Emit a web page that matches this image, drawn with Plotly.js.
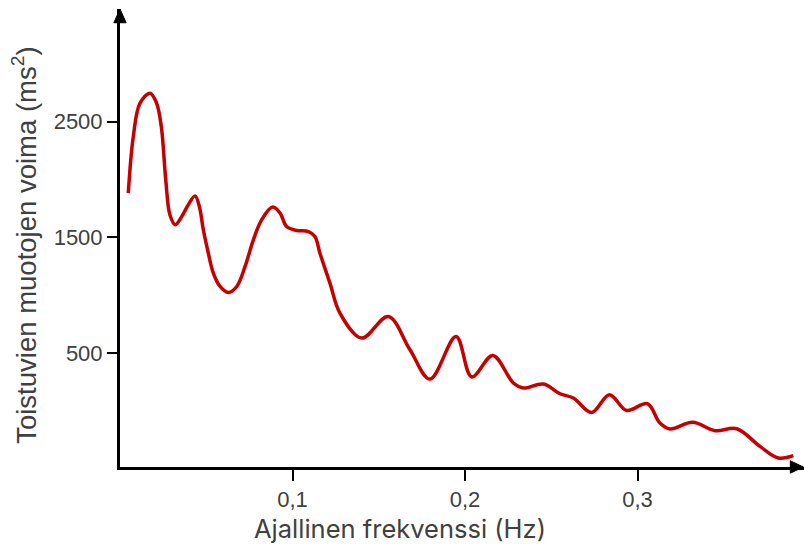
<!DOCTYPE html>
<html>
<head>
<meta charset="utf-8">
<script src="https://cdn.plot.ly/plotly-3.0.1.min.js"></script>
<style>html,body{margin:0;padding:0;background:#fff;}#chart{width:804px;height:552px;}</style>
</head>
<body>
<div id="chart"></div>
<script>
// Frequency (Hz)
const frequency = [0.0048, 0.0077, 0.0116, 0.0174, 0.0212, 0.0240, 0.0265, 0.0290, 0.0321,
  0.0358, 0.0396, 0.0435, 0.0460, 0.0483, 0.0512, 0.0541, 0.0580, 0.0628,
  0.0677, 0.0725, 0.0773, 0.0821, 0.0885, 0.0928, 0.0966, 0.1024, 0.1092, 0.1130,
  0.1159, 0.1217, 0.1275, 0.1401, 0.1555, 0.1681, 0.1797, 0.1948, 0.2039, 0.2161,
  0.2280, 0.2338, 0.2454, 0.2551, 0.2628, 0.2734, 0.2837, 0.2937, 0.3057, 0.3130,
  0.3188, 0.3320, 0.3449, 0.3575, 0.3710, 0.3816, 0.3903];
// Power (ms^2)
const power = [1882, 2370, 2659, 2745, 2660, 2450, 2000, 1690, 1608,
  1680, 1781, 1858, 1766, 1565, 1363, 1191, 1075, 1023,
  1075, 1248, 1478, 1651, 1761, 1709, 1593, 1559, 1550, 1507,
  1363, 1104, 845, 629, 816, 528, 275, 643, 293, 479,
  241, 198, 232, 148, 111, -13, 140, 4, 62, -105,
  -156, -99, -171, -154, -307, -407, -387];

const xTickVals = [0.1, 0.2, 0.3];
const xTickText = ['0,1', '0,2', '0,3'];
const yTickVals = [500, 1500, 2500];
const yTickText = ['500', '1500', '2500'];

const xTitle = 'Ajallinen frekvenssi (Hz)';
const yTitle = 'Toistuvien muotojen voima (ms<sup>2</sup>)';

const trace = {
  x: frequency,
  y: power,
  type: 'scatter',
  mode: 'lines',
  line: {color: '#c40000', width: 3.5, shape: 'spline', smoothing: 1},
  hoverinfo: 'skip'
};

const tickFont = {family: 'Liberation Sans, Arial, sans-serif', size: 22, color: '#404040'};

const layout = {
  width: 804,
  height: 552,
  margin: {l: 120, r: 0, t: 9, b: 85},
  paper_bgcolor: '#ffffff',
  plot_bgcolor: '#ffffff',
  showlegend: false,
  xaxis: {
    range: [0, 0.3965],
    showgrid: false,
    zeroline: false,
    showline: true,
    linecolor: '#000000',
    linewidth: 3,
    ticks: 'outside',
    ticklen: 11,
    tickwidth: 2,
    tickcolor: '#000000',
    tickvals: xTickVals,
    ticktext: xTickText,
    tickfont: tickFont
  },
  yaxis: {
    range: [-485, 3473],
    showgrid: false,
    zeroline: false,
    showline: true,
    linecolor: '#000000',
    linewidth: 3,
    ticks: 'outside',
    ticklen: 10,
    tickwidth: 2,
    tickcolor: '#000000',
    tickvals: yTickVals,
    ticktext: yTickText,
    tickfont: tickFont
  },
  shapes: [
    // arrowhead on top of the y axis
    {type: 'path', xref: 'paper', yref: 'paper', layer: 'above',
     path: 'M -0.0090 0.9700 L 0 1.0000 L 0.0090 0.9700 Z',
     fillcolor: '#000000', line: {color: '#000000', width: 1}},
    // arrowhead at the right end of the x axis
    {type: 'path', xref: 'paper', yref: 'paper', layer: 'above',
     path: 'M 0.9800 0.0135 L 0.9990 0 L 0.9800 -0.0135 Z',
     fillcolor: '#000000', line: {color: '#000000', width: 1}}
  ],
  annotations: [
    {xref: 'paper', yref: 'paper', x: 0.409, y: -0.135, xanchor: 'center', yanchor: 'middle',
     text: xTitle, showarrow: false,
     font: {family: 'Inter, Lato, sans-serif', size: 25.5, color: '#404040'}},
    {xref: 'paper', yref: 'paper', x: -0.139, y: 0.485, xanchor: 'center', yanchor: 'middle',
     text: yTitle, showarrow: false, textangle: -90,
     font: {family: 'Liberation Sans, Arial, sans-serif', size: 27.5, color: '#404040'}}
  ]
};

Plotly.newPlot('chart', [trace], layout, {displayModeBar: false, staticPlot: true});
</script>
</body>
</html>
